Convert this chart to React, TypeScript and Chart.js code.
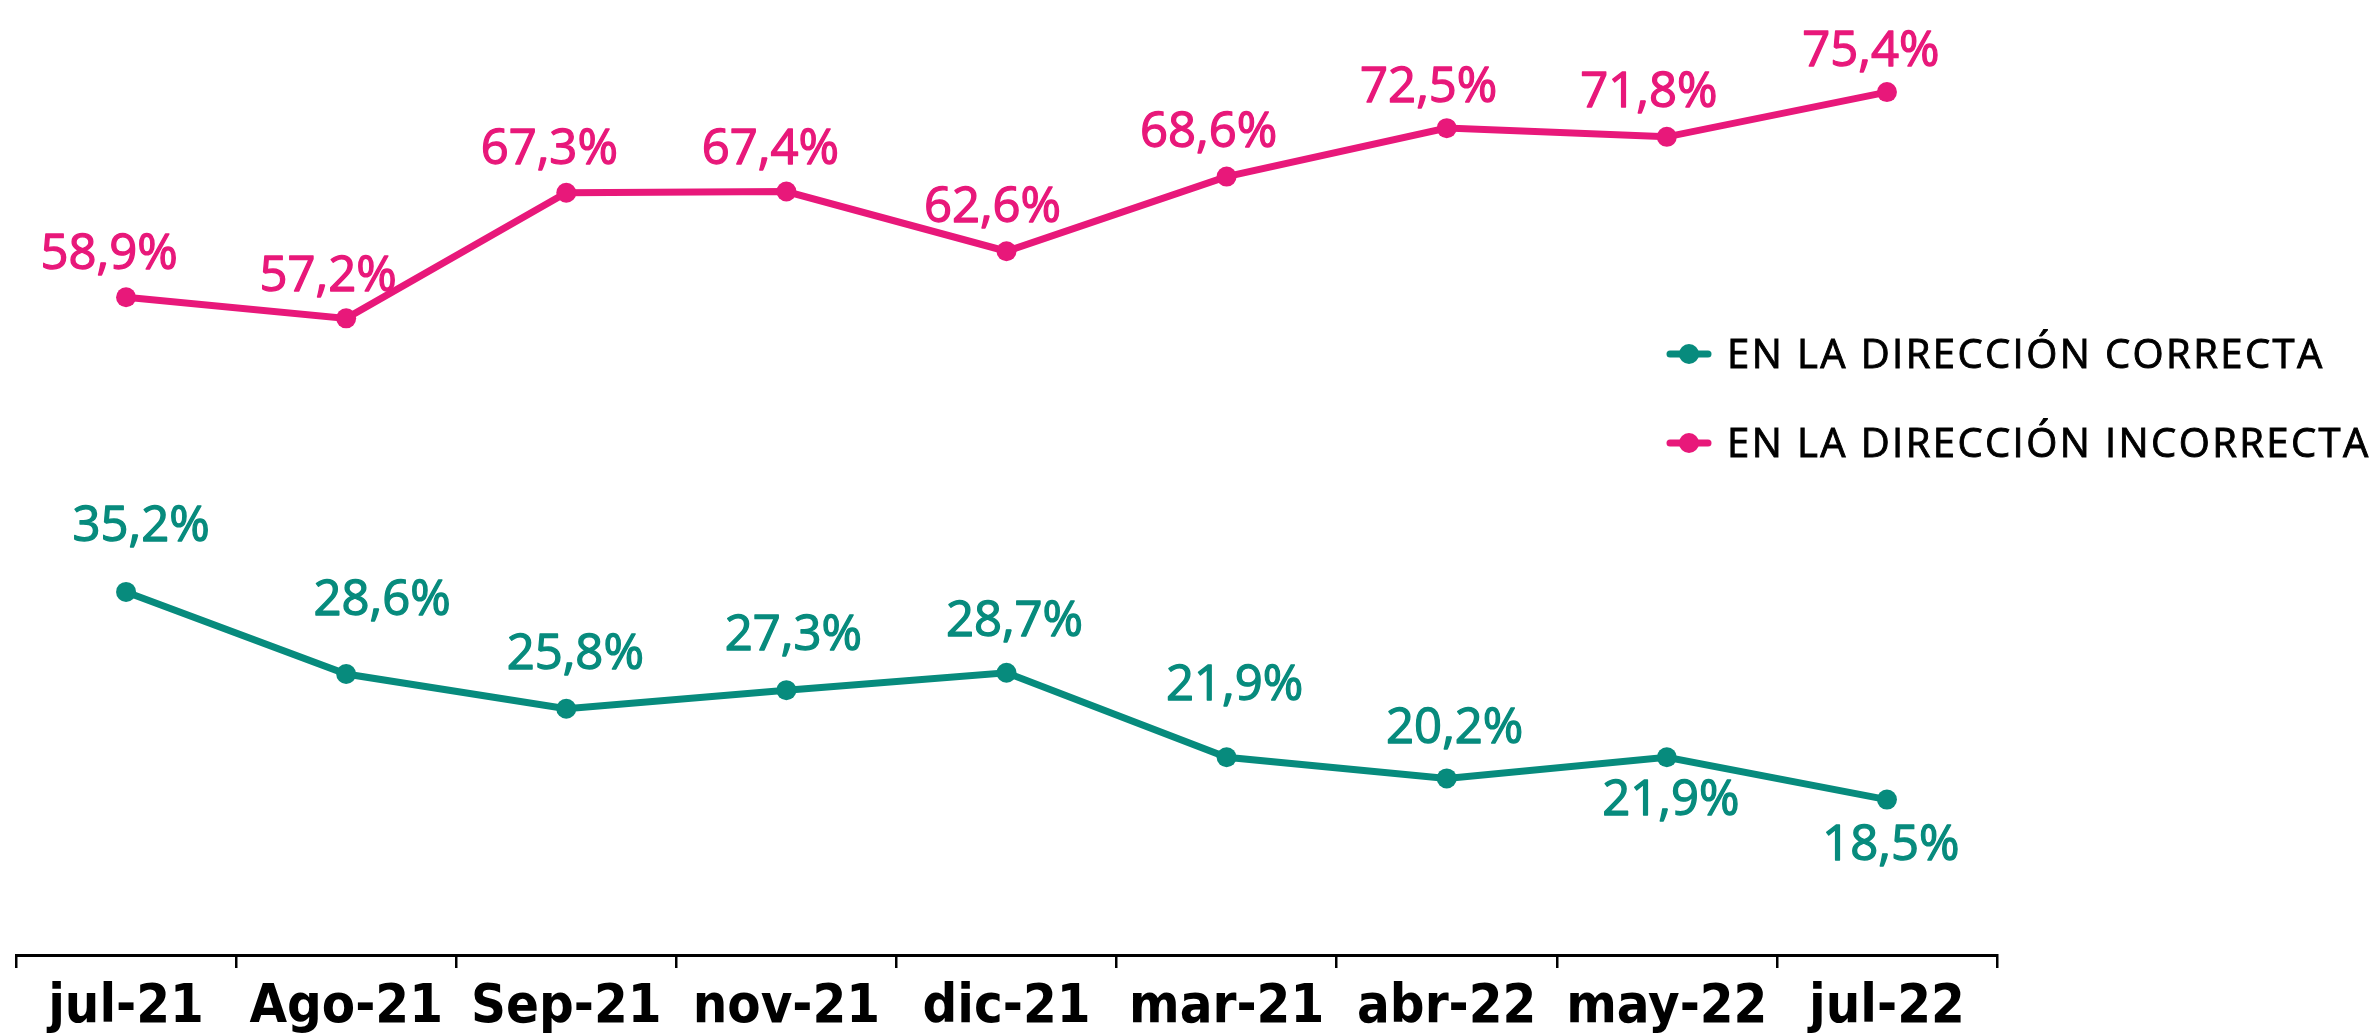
import React, { useEffect, useRef } from 'react';
import { Chart, registerables } from 'chart.js';

Chart.register(...registerables);

const categories = ['jul-21', 'Ago-21', 'Sep-21', 'nov-21', 'dic-21', 'mar-21', 'abr-22', 'may-22', 'jul-22'];
const correcta = [35.2, 28.6, 25.8, 27.3, 28.7, 21.9, 20.2, 21.9, 18.5];
const incorrecta = [58.9, 57.2, 67.3, 67.4, 62.6, 68.6, 72.5, 71.8, 75.4];
const seriesNames = ['EN LA DIRECCIÓN CORRECTA', 'EN LA DIRECCIÓN INCORRECTA'];

const GREEN = '#078B7D';
const PINK = '#E8187A';

// label placement (pixel offsets of label centre from its point), per dataset
const correctaLabelOffsets = [[15, -68], [36, -76], [9, -57], [7, -58], [8, -54], [8, -75], [8, -53], [4, 40], [4, 43]];
const incorrectaLabelOffsets = [[-17, -46], [-18, -45], [-17, -46], [-16, -45], [-14, -47], [-18, -47], [-18, -44], [-18, -47], [-16, -44]];

const LABEL_FONT = '400 49px "Open Sans"';
const LABEL_CAP = 49 * 0.714;

const fmt = (v: number) => v.toFixed(1).replace('.', ',') + '%';

const dataLabelPlugin = {
  id: 'dataLabels',
  afterDatasetsDraw(chart: any) {
    const ctx = chart.ctx;
    const offsetsList = [correctaLabelOffsets, incorrectaLabelOffsets];
    chart.data.datasets.forEach((ds: any, di: number) => {
      const meta = chart.getDatasetMeta(di);
      const offs = offsetsList[di];
      ctx.save();
      ctx.font = LABEL_FONT;
      ctx.fillStyle = ds.borderColor;
      ctx.strokeStyle = ds.borderColor;
      ctx.lineWidth = 1.3;
      ctx.lineJoin = 'round';
      ctx.textAlign = 'center';
      ctx.textBaseline = 'alphabetic';
      meta.data.forEach((pt: any, i: number) => {
        const [dx, dy] = offs[i];
        const x = pt.x + dx;
        const y = pt.y + dy + LABEL_CAP / 2;
        ctx.fillText(fmt(ds.data[i]), x, y);
        ctx.strokeText(fmt(ds.data[i]), x, y);
      });
      ctx.restore();
    });
  },
};

const legendPlugin = {
  id: 'customLegend',
  afterDraw(chart: any) {
    const ctx = chart.ctx;
    const items = [
      { text: seriesNames[0], color: GREEN, y: 354 },
      { text: seriesNames[1], color: PINK, y: 443 },
    ];
    items.forEach((it) => {
      ctx.save();
      ctx.strokeStyle = it.color;
      ctx.fillStyle = it.color;
      ctx.lineWidth = 7;
      ctx.lineCap = 'round';
      ctx.beginPath();
      ctx.moveTo(1670, it.y);
      ctx.lineTo(1708, it.y);
      ctx.stroke();
      ctx.beginPath();
      ctx.arc(1689, it.y, 10, 0, Math.PI * 2);
      ctx.fill();
      ctx.fillStyle = '#000';
      ctx.strokeStyle = '#000';
      ctx.lineWidth = 0.9;
      ctx.font = '400 40px "Open Sans"';
      (ctx as any).letterSpacing = '2.4px';
      ctx.textAlign = 'left';
      ctx.textBaseline = 'alphabetic';
      const by = it.y + 40 * 0.357;
      ctx.fillText(it.text, 1727, by);
      ctx.strokeText(it.text, 1727, by);
      ctx.restore();
    });
  },
};

export default function App() {
  const canvasRef = useRef<HTMLCanvasElement | null>(null);

  useEffect(() => {
    if (!canvasRef.current) return;
    const chart = new Chart(canvasRef.current, {
      type: 'line',
      data: {
        labels: categories,
        datasets: [
          {
            label: seriesNames[0],
            data: correcta,
            borderColor: GREEN,
            backgroundColor: GREEN,
            pointBackgroundColor: GREEN,
            pointBorderWidth: 0,
            pointRadius: 10,
            borderWidth: 7,
            tension: 0,
          },
          {
            label: seriesNames[1],
            data: incorrecta,
            borderColor: PINK,
            backgroundColor: PINK,
            pointBackgroundColor: PINK,
            pointBorderWidth: 0,
            pointRadius: 10,
            borderWidth: 7,
            tension: 0,
          },
        ],
      },
      options: {
        animation: false,
        responsive: true,
        maintainAspectRatio: false,
        layout: { padding: { left: 16, right: 374, top: 6, bottom: 0 } },
        plugins: {
          legend: { display: false },
          tooltip: { enabled: false },
        },
        scales: {
          x: {
            offset: true,
            grid: {
              display: true,
              drawOnChartArea: false,
              drawTicks: true,
              tickLength: 13,
              color: '#000',
              lineWidth: 2.5,
              offset: true,
            },
            border: { display: true, color: '#000', width: 3 },
            ticks: {
              color: '#000',
              font: { family: '"Liberation Sans Narrow", "DejaVu Sans Condensed", sans-serif', weight: 'bold', size: 54 },
              padding: 8,
              maxRotation: 0,
              autoSkip: false,
            },
            afterFit: (scale: any) => {
              scale.height = 81;
            },
          },
          y: { display: false, min: 6, max: 82 },
        },
      },
      plugins: [dataLabelPlugin, legendPlugin],
    });
    return () => chart.destroy();
  }, []);

  return (
    <div style={{ position: 'absolute', left: 0, top: 0, width: 2371, height: 1036, background: '#fff' }}>
      <canvas ref={canvasRef} />
    </div>
  );
}
